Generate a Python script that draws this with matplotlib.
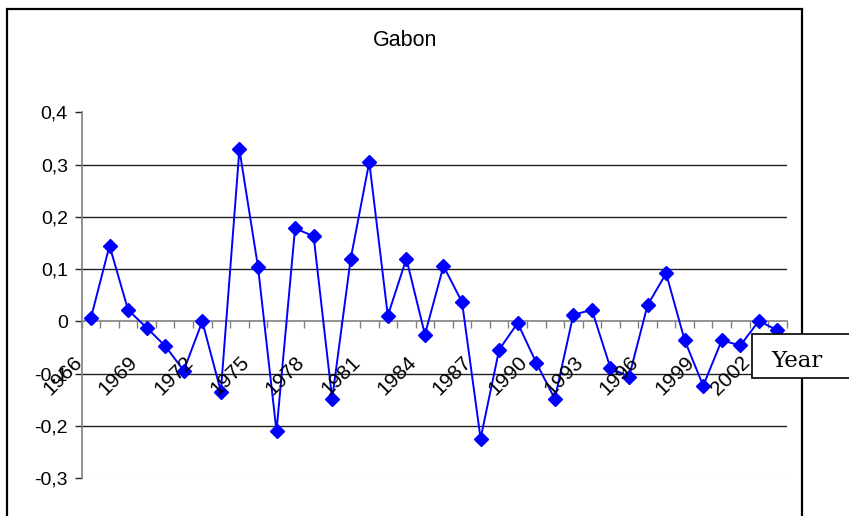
import numpy as np
import matplotlib
matplotlib.use('Agg')
import matplotlib.pyplot as plt
from matplotlib.patches import Rectangle

# 数据：年份与数值
years = list(range(1966, 2004))
values = [0.007, 0.145, 0.022, -0.012, -0.047, -0.094, 0.000, -0.134, 0.329, 0.105,
          -0.210, 0.178, 0.163, -0.148, 0.120, 0.305, 0.011, 0.120, -0.025, 0.106,
          0.037, -0.224, -0.054, -0.003, -0.079, -0.148, 0.013, 0.022, -0.089, -0.106,
          0.031, 0.092, -0.036, -0.123, -0.036, -0.046, 0.001, -0.017]
y_ticks = [0.4, 0.3, 0.2, 0.1, 0.0, -0.1, -0.2, -0.3]
y_ticklabels = ['0,4', '0,3', '0,2', '0,1', '0', '-0,1', '-0,2', '-0,3']
title = 'Gabon'
axis_label = 'Year'

plt.rcParams['font.family'] = ['Liberation Sans', 'DejaVu Sans']

W, H = 849, 516
fig = plt.figure(figsize=(W / 100, H / 100), dpi=100)
ax = fig.add_axes([81.7 / W, 1 - 478.3 / H, (786.7 - 81.7) / W, (478.3 - 112.3) / H])

x = np.arange(len(years))
ax.plot(x, values, color='#0000ff', lw=1.4, marker='D', ms=7.5, mec='#0000ff', mfc='#0000ff',
        zorder=5, clip_on=False)

ax.set_xlim(-0.5, len(years) - 0.5)
ax.set_ylim(-0.3, 0.4)

# 网格线（Excel风格）
for yv in [0.3, 0.2, 0.1, -0.1, -0.2]:
    ax.axhline(yv, color='#222222', lw=1.0, zorder=1)
ax.axhline(-0.3, color='#e8e8e8', lw=1.0, zorder=1)

for s in ['top', 'right']:
    ax.spines[s].set_visible(False)
ax.spines['bottom'].set_position(('data', 0))
ax.spines['bottom'].set_color('#808080')
ax.spines['left'].set_color('#808080')
ax.spines['bottom'].set_linewidth(1.2)
ax.spines['left'].set_linewidth(1.2)
ax.spines['bottom'].set_zorder(2)

ax.set_yticks(y_ticks)
ax.set_yticklabels(y_ticklabels)
ax.tick_params(axis='y', direction='out', length=5, width=1, color='#222222',
               labelsize=14, pad=5)

ax.set_xticks(np.arange(-0.5, len(years) + 0.5, 1.0))
ax.set_xticklabels([])
ax.tick_params(axis='x', direction='out', length=5, width=1, color='#808080')

# 旋转的年份标签
for i in range(0, len(years), 3):
    ax.annotate(str(years[i]), xy=(i, 0), xytext=(-12, -38), textcoords='offset pixels',
                rotation=45, rotation_mode='anchor', ha='right', va='center',
                fontsize=15, color='black', zorder=6, annotation_clip=False)

# 标题
fig.text(405 / W, 1 - 46 / H, title, ha='center', va='baseline', fontsize=15.5)

# 外框
fig.patches.append(Rectangle((7 / W, -0.05), (802 - 7) / W, 1.05 - 9 / H,
                             transform=fig.transFigure, fill=False, ec='black', lw=1.6))

# "Year" 标签框
fig.patches.append(Rectangle((752 / W, 1 - 378 / H), 0.2, 44 / H, transform=fig.transFigure,
                             fc='white', ec='black', lw=1.2, zorder=10))
fig.text(771 / W, 1 - 366.7 / H, axis_label, ha='left', va='baseline', fontsize=16.5,
         family=['DejaVu Serif'], zorder=11)

fig.savefig('out.png', dpi=100)
